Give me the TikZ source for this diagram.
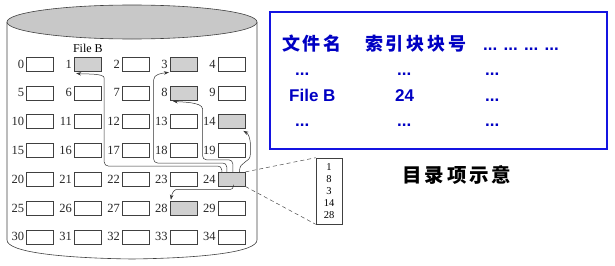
\documentclass[tikz,border=0pt]{standalone}
\usepackage{fontspec}
\usepackage{tikz}
\usetikzlibrary{arrows.meta,calc,positioning}
\setmainfont{Liberation Serif}
\newfontfamily\arialfont{Liberation Sans}
\newfontfamily\cjkfont{Noto Sans CJK SC}[LetterSpace=15]
\definecolor{diskgray}{RGB}{200,200,200}
\definecolor{usedgray}{RGB}{208,208,208}
\definecolor{panelblue}{RGB}{20,20,225}
\definecolor{textblue}{RGB}{0,0,195}

\begin{document}
\begin{tikzpicture}[
  x=1pt, y=-1pt,
  font=\fontsize{12.5}{14}\selectfont,
  blk/.style={draw=black!75, line width=0.6pt, minimum width=27pt, minimum height=14pt, inner sep=0pt},
  num/.style={inner sep=0pt, text=black!85, anchor=east},
  link/.style={-{Stealth[length=5pt,width=3.5pt]}, line width=0.5pt, black!80, rounded corners=4pt},
  zoomline/.style={black!70, line width=0.5pt, dash pattern=on 4pt off 3pt},
  dirtxt/.style={anchor=base west, inner sep=0pt, text=textblue, font=\arialfont\bfseries\fontsize{17}{20}\selectfont},
  cjktxt/.style={dirtxt, font=\cjkfont\bfseries\fontsize{18}{20}\selectfont}
]
\useasboundingbox (0,0) rectangle (615,265);

% disk
\draw[line width=0.6pt, black!75] (7,22) -- (7,240) .. controls (7,252) and (60,258) .. (132,259)
  .. controls (204,258) and (257,252) .. (257,240) -- (257,22);
\draw[line width=0.6pt, black!75, fill=diskgray] (132,22) ellipse [x radius=125pt, y radius=17pt];

% blocks 0..34
\foreach \r in {0,...,6}{
  \foreach \c in {0,...,4}{
    \pgfmathtruncatemacro{\k}{5*\r+\c}
    \pgfmathtruncatemacro{\isused}{(\k==1)||(\k==3)||(\k==8)||(\k==14)||(\k==24)||(\k==28)}
    \ifnum\isused=1 \def\fillc{usedgray}\else\def\fillc{white}\fi
    \node[blk, fill=\fillc] (b\k) at ({40+47.9*\c},{64+28.8*\r}) {};
    \node[num] (n\k) at ($(b\k.west)+(-2,0)$) {\k};
  }
}
\node[inner sep=0pt, above=4pt of b1, font=\fontsize{12}{14}\selectfont] (fileBtag) {File B};

% index block
\node[draw=black!75, line width=0.6pt, minimum width=26pt, minimum height=66pt, inner sep=0pt,
  align=center, font=\fontsize{10.5}{11.8}\selectfont] (idx) at (329,191) {1\\8\\3\\14\\28};
\draw[zoomline] (b24.north east) -- (idx.north west);
\draw[zoomline] (b24.south east) -- (idx.south west);

% pointers from the index block
\draw[link] ($(b24.north west)+(4,0)$) |- ($(b1.east)+(2.5,102)$) -- ($(b1.east)+(2.5,18)$)
  .. controls ($(b1.east)+(2.5,9)$) and ($(b1.south west)+(10,3)$) .. ($(b1.south west)+(2,2)$);
\draw[link] ($(b24.north west)+(9,0)$) |- ($(b2.east)+(4,99)$) -- ($(b2.east)+(4,20)$)
  .. controls ($(b2.east)+(4,10)$) and ($(b3.south west)+(-8,2)$) .. ($(b3.south west)+(-1,1)$);
\draw[link] ($(b24.north west)+(15,0)$) |- ($(b8.east)+(5,67)$) -- ($(b8.east)+(5,20)$)
  .. controls ($(b8.east)+(5,9)$) and ($(b8.south west)+(10,2)$) .. ($(b8.south west)+(3,1)$);
\draw[link] ($(b24.north east)+(-6,0)$) .. controls ($(b24.north east)+(-6,-12)$) and ($(b24.north east)+(5,-8)$) .. ($(b24.north east)+(5,-22)$)
  .. controls ($(b24.north east)+(5,-34)$) and ($(b14.south east)+(3,5)$) .. ($(b14.south east)+(-2,2)$);
\draw[link] ($(b24.south)+(2,0)$) |- ($(b28.north west)+(10,-11)$)
  .. controls ($(b28.north west)+(4,-11)$) and ($(b28.north west)+(2,-7)$) .. ($(b28.north west)+(1,-1)$);

% directory entry
\node[draw=panelblue, line width=2pt, minimum width=337pt, minimum height=137pt, inner sep=0pt] (dir) at (438.5,80.5) {};
\node[cjktxt] (hdName) at (282,50) {文件名};
\node[cjktxt] (hdBlock) at (365,50) {索引块块号};
\node[dirtxt] (hdMore) at (483,50) {... ... ... ...};
\node[dirtxt] (r1a) at (295,75) {...};
\node[dirtxt] (r1b) at (397,75) {...};
\node[dirtxt] (r1c) at (485,75) {...};
\node[dirtxt] (r2a) at (289,101) {File B};
\node[dirtxt] (r2b) at (395,101) {24};
\node[dirtxt] (r2c) at (485,101) {...};
\node[dirtxt] (r3a) at (295,126) {...};
\node[dirtxt] (r3b) at (397,126) {...};
\node[dirtxt] (r3c) at (485,126) {...};
\node[anchor=base west, inner sep=0pt, font=\cjkfont\bfseries\fontsize{19.5}{22}\selectfont] (caption) at (402,182) {目录项示意};
\end{tikzpicture}
\end{document}
